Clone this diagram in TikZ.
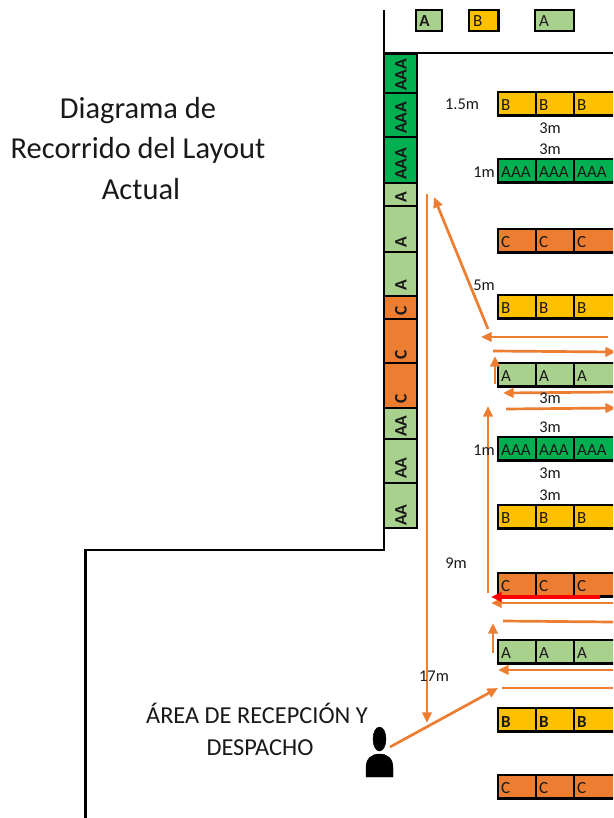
\documentclass[tikz,border=0pt]{standalone}
\usepackage{fontspec}
\setmainfont{Carlito}
\usetikzlibrary{arrows.meta}
\definecolor{rackA}{HTML}{A9D18E}
\definecolor{rackB}{HTML}{FFC000}
\definecolor{rackC}{HTML}{ED7D31}
\definecolor{rackAAA}{HTML}{00B050}
\tikzset{
	wall/.style={line width=2.4pt},
	cell/.style={draw=black, line width=2.3pt},
	thincell/.style={draw=black, line width=1.6pt},
	route/.style={draw=rackC, line width=2.3pt, -{Triangle[length=9pt,width=8pt]}},
	routeend/.style={draw=rackC, line width=2.3pt},
	lbl/.style={font=\fontsize{14}{14}\selectfont, inner sep=0pt, text=black!90},
	cmark/.style={font=\fontsize{14.5}{14.5}\selectfont, inner sep=0pt, text=black!90, anchor=west},
	vmark/.style={font=\fontsize{15}{15}\selectfont\bfseries, inner sep=0pt, text=black!90, rotate=90},
	title/.style={font=\fontsize{26}{26}\selectfont, inner sep=0pt, text=black!90},
	area/.style={font=\fontsize{20.8}{20.8}\selectfont, inner sep=0pt, text=black!90}
}
% one row of three rack cells, #2 is the top edge, #3 the letters
\def\rackrow[#1](#2)(#3){
	\draw[cell, fill=#1] (498, #2) rectangle (536, #2+23.5);
	\draw[cell, fill=#1] (536, #2) rectangle (574, #2+23.5);
	\draw[cell, fill=#1] (574, #2) rectangle (630, #2+23.5);
	\node[cmark] at (501, #2+13.5) {#3};
	\node[cmark] at (539, #2+13.5) {#3};
	\node[cmark] at (577, #2+13.5) {#3};
}
% one cell of the column along the wall: top, bottom, colour, letters, text position
\def\colcell[#1](#2:#3)(#4:#5){
	\draw[thincell, fill=#1] (384, #2) rectangle (416.5, #3);
	\node[vmark] at (401, #5) {#4};
}

\begin{document}
\begin{tikzpicture}[x=0.03cm, y=-0.03cm]
	%%%%% START %%%%%
	\useasboundingbox (0, 0) rectangle (613, 818);
	\clip (0, 0) rectangle (613, 818);

	\draw[cell, fill=rackA] (416, 10) rectangle (442, 31);
	\node[lbl, font=\fontsize{14.5}{14.5}\selectfont\bfseries] (topa) at (424.5, 21) {A};
	\draw[cell, fill=rackB] (469, 10) rectangle (498.5, 31);
	\node[cmark] (topb) at (473, 21) {B};
	\draw[cell, fill=rackA] (535, 10) rectangle (574, 31);
	\node[cmark] (topc) at (539, 21) {A};

	\colcell[rackAAA](54:93)(AAA:75);
	\colcell[rackAAA](93:137)(AAA:118);
	\colcell[rackAAA](137:183)(AAA:164);
	\colcell[rackA](183:206)(A:197);
	\colcell[rackA](206:252)(A:242);
	\colcell[rackA](252:296)(A:285);
	\colcell[rackC](296:319)(C:311);
	\colcell[rackC](319:363)(C:355);
	\colcell[rackC](363:408)(C:399);
	\colcell[rackA](408:439)(AA:426);
	\colcell[rackA](439:483)(AA:468);
	\colcell[rackA](483:528)(AA:515);
	\draw[cell] (417, 54) -- (417, 528) -- (384, 528);

	\draw[wall] (384, 10) -- (384, 550) -- (85.5, 550) -- (85.5, 818);
	\draw[wall] (384, 53) -- (613, 53);

	\rackrow[rackB](92)(B);
	\rackrow[rackAAA](159)(AAA);
	\rackrow[rackC](229)(C);
	\rackrow[rackB](295)(B);
	\rackrow[rackA](363)(A);
	\rackrow[rackAAA](437)(AAA);
	\rackrow[rackB](505)(B);
	\rackrow[rackC](573)(C);
	\rackrow[rackA](640)(A);
	\rackrow[rackB](708)(\textbf{B});
	\rackrow[rackC](775)(C);

	\draw[route] (427, 194) -- (427, 723);
	\draw[route] (488, 329) -- (434, 197);
	\draw[route] (608, 337) -- (481, 337);
	\draw[route] (493, 351) -- (616, 352);
	\draw[route] (495, 384) -- (495, 356);
	\draw[route] (616, 392) -- (503, 393);
	\draw[route] (506, 409) -- (616, 408);
	\draw[route] (488, 593) -- (488, 406);
	\draw[route] (616, 603) -- (491, 603);
	\draw[routeend] (503, 621) -- (613, 622);
	\draw[route] (493, 653) -- (493, 623);
	\draw[route] (616, 670) -- (498, 670);
	\draw[routeend] (502, 688) -- (613, 688);
	\draw[route] (390, 747) -- (498, 688);
	\draw[route, draw=red, line width=2.7pt] (600, 597) -- (491, 597);

	\node[lbl] (l1) at (462, 104) {1.5m};
	\node[lbl] (l2) at (550, 128) {3m};
	\node[lbl] (l3) at (550, 149) {3m};
	\node[lbl] (l4) at (484, 172) {1m};
	\node[lbl] (l5) at (484, 285) {5m};
	\node[lbl] (l6) at (550, 398) {3m};
	\node[lbl] (l7) at (550, 427) {3m};
	\node[lbl] (l8) at (484, 450) {1m};
	\node[lbl] (l9) at (550, 473) {3m};
	\node[lbl] (l10) at (550, 495) {3m};
	\node[lbl] (l11) at (456, 563) {9m};
	\node[lbl] (l12) at (434, 676) {17m};

	\node[title] (t1) at (138, 111) {Diagrama de};
	\node[title] (t2) at (138, 150) {Recorrido del Layout};
	\node[title] (t3) at (141, 189) {Actual};
	\node[area] (r1) at (257, 713.5) {ÁREA DE RECEPCIÓN Y};
	\node[area] (r2) at (260, 748) {DESPACHO};

	\draw[fill=black] (379.5, 739) ellipse (6.5 and 12);
	\draw[fill=black] (366, 777) -- (366, 768) .. controls (366, 758) and (372, 754) .. (379.5, 754) .. controls (387, 754) and (393, 758) .. (393, 768) -- (393, 777) -- cycle;
	%%%%% END %%%%%
\end{tikzpicture}
\end{document}
